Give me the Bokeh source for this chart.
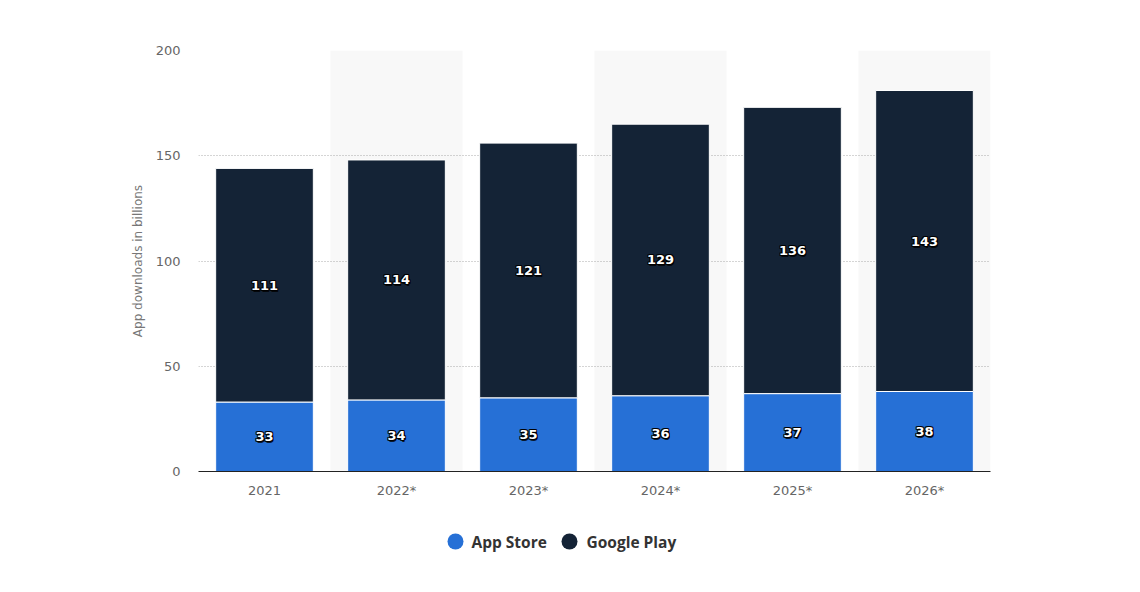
from bokeh.plotting import figure
from bokeh.models import ColumnDataSource, FactorRange, Range1d
from bokeh.layouts import column
from bokeh.core.properties import value
from bokeh.embed import file_html
from bokeh.resources import INLINE

years = ["2021", "2022*", "2023*", "2024*", "2025*", "2026*"]
app_store = [33, 34, 35, 36, 37, 38]
google_play = [111, 114, 121, 129, 136, 143]
y_ticks = [0, 50, 100, 150, 200]
series_names = ["App Store", "Google Play"]

BLUE = "#2670d6"
NAVY = "#142336"
FONT = "DejaVu Sans"
LEG_FONT = "Open Sans"

totals = [a + g for a, g in zip(app_store, google_play)]
src = ColumnDataSource(dict(
    x=years, app=app_store, gp=google_play, total=totals,
    app_mid=[a / 2 for a in app_store],
    gp_mid=[a + g / 2 for a, g in zip(app_store, google_play)],
    app_lbl=[str(v) for v in app_store],
    gp_lbl=[str(v) for v in google_play],
    zero=[0] * len(years),
))

p = figure(x_range=FactorRange(*years, range_padding=0), y_range=Range1d(0, 200),
           width=1124, height=505, output_backend="svg", toolbar_location=None,
           min_border_left=198, min_border_right=134, min_border_top=50,
           min_border_bottom=34)
p.outline_line_color = None
p.background_fill_color = "white"

# alternating background bands
band_src = ColumnDataSource(dict(x=[years[i] for i in range(1, len(years), 2)],
                                 top=[200] * 3, bottom=[0] * 3))
p.vbar(x="x", top="top", bottom="bottom", width=1.0, source=band_src,
       fill_color="#f8f8f8", line_color=None, level="underlay")

p.vbar(x="x", bottom="zero", top="app", width=0.74, source=src,
       fill_color=BLUE, line_color="white", line_width=1)
p.vbar(x="x", bottom="app", top="total", width=0.74, source=src,
       fill_color=NAVY, line_color="white", line_width=1)

# outlined labels
offsets = ((-1, 0), (1, 0), (0, -1), (0, 1), (-1, -1), (1, 1), (-1, 1), (1, -1), (1, 2))
for col_y, col_t in (("app_mid", "app_lbl"), ("gp_mid", "gp_lbl")):
    for dx, dy in offsets:
        p.text(x="x", y=col_y, text=col_t, source=src, x_offset=dx, y_offset=dy,
               text_align="center", text_baseline="middle",
               text_font=value(FONT), text_font_style="bold",
               text_font_size="13px", text_color="black", text_alpha=0.8)
    p.text(x="x", y=col_y, text=col_t, source=src,
           text_align="center", text_baseline="middle",
           text_font=value(FONT), text_font_style="bold",
           text_font_size="13px", text_color="white")

p.xgrid.grid_line_color = None
p.ygrid.grid_line_color = "#aaaaaa"
p.ygrid.grid_line_dash = "1 2"
p.ygrid.grid_line_width = 1
p.yaxis.ticker = y_ticks
p.yaxis.axis_line_color = None
p.yaxis.major_tick_line_color = None
p.yaxis.minor_tick_line_color = None
p.yaxis.major_label_text_font = FONT
p.yaxis.major_label_text_font_size = "13px"
p.yaxis.major_label_text_color = "#666666"
p.yaxis.major_label_standoff = 12
p.yaxis.axis_label = "App downloads in billions"
p.yaxis.axis_label_text_font = FONT
p.yaxis.axis_label_text_font_size = "12px"
p.yaxis.axis_label_text_font_style = "normal"
p.yaxis.axis_label_text_color = "#777777"
p.yaxis.axis_label_standoff = 8

p.xaxis.axis_line_color = "#222222"
p.xaxis.axis_line_width = 1
p.xaxis.major_tick_line_color = None
p.xaxis.minor_tick_line_color = None
p.xaxis.major_label_text_font = FONT
p.xaxis.major_label_text_font_size = "13px"
p.xaxis.major_label_text_color = "#666666"
p.xaxis.major_label_standoff = 5

# legend strip (pixel coordinates relative to the plot frame)
leg = figure(width=1124, height=71, output_backend="svg", toolbar_location=None,
             x_range=Range1d(0, 792), y_range=Range1d(0, 71),
             min_border_left=198, min_border_right=134, min_border_top=0,
             min_border_bottom=0)
leg.axis.visible = False
leg.grid.visible = False
leg.outline_line_color = None
leg_src = ColumnDataSource(dict(
    cx=[257, 371], cy=[35, 35], tx=[273, 388], color=[BLUE, NAVY], label=series_names))
leg.scatter(x="cx", y="cy", source=leg_src, marker="circle", size=16,
            fill_color="color", line_color=None)
leg.text(x="tx", y="cy", text="label", source=leg_src, text_baseline="middle",
         text_font=value(LEG_FONT), text_font_style="bold", text_font_size="15.5px",
         text_color="#333333")

open("out.html", "w").write(file_html(column(p, leg), INLINE))
